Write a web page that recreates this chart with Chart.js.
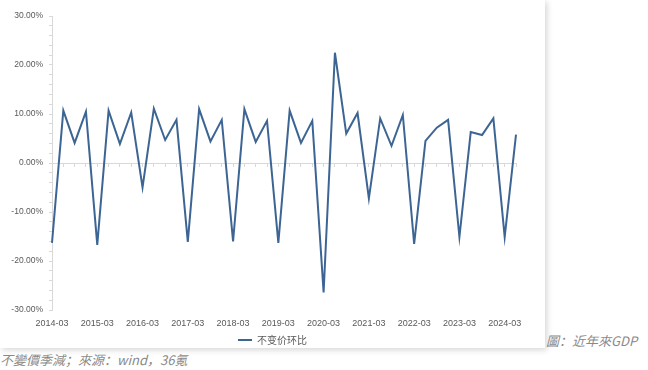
<!DOCTYPE html>
<html lang="zh">
<head>
    <meta charset="UTF-8">
    <title>不变价环比</title>
    <script src="https://cdn.jsdelivr.net/npm/chart.js"></script>
    <style>
        html, body {
            margin: 0;
            padding: 0;
            background: #ffffff;
            width: 648px;
            height: 370px;
            overflow: hidden;
        }
        .painel {
            position: absolute;
            left: 0;
            top: 0;
            width: 545px;
            height: 348px;
            overflow: hidden;
            background: #ffffff;
            box-shadow: 2px 2px 6px rgba(0, 0, 0, 0.16);
        }
        .legenda {
            position: absolute;
            color: #8a8a8a;
            font-style: italic;
            font-family: "Noto Sans CJK TC", "Noto Sans", sans-serif;
            font-size: 13px;
            white-space: nowrap;
        }
    </style>
</head>
<body>
    <div class="painel">
        <canvas id="grafico" width="545" height="355"></canvas>
    </div>
    <div class="legenda" style="left:546px; top:331px;">圖：近年來GDP</div>
    <div class="legenda" style="left:0px; top:350px;">不變價季減；來源：wind，36氪</div>

    <script>
        // rótulos do eixo x (trimestres)
        var trimestres = [
            '2014-03', '2014-06', '2014-09', '2014-12',
            '2015-03', '2015-06', '2015-09', '2015-12',
            '2016-03', '2016-06', '2016-09', '2016-12',
            '2017-03', '2017-06', '2017-09', '2017-12',
            '2018-03', '2018-06', '2018-09', '2018-12',
            '2019-03', '2019-06', '2019-09', '2019-12',
            '2020-03', '2020-06', '2020-09', '2020-12',
            '2021-03', '2021-06', '2021-09', '2021-12',
            '2022-03', '2022-06', '2022-09', '2022-12',
            '2023-03', '2023-06', '2023-09', '2023-12',
            '2024-03', '2024-06'
        ];

        // valores (%)
        var variacao = [
            -16.3, 10.7, 4.1, 10.5,
            -16.7, 10.7, 3.9, 10.3,
            -5.0, 11.1, 4.7, 8.8,
            -16.1, 11.0, 4.4, 8.8,
            -16.0, 11.0, 4.3, 8.6,
            -16.3, 10.7, 4.1, 8.6,
            -26.4, 22.5, 6.0, 10.2,
            -7.2, 9.1, 3.5, 9.8,
            -16.5, 4.5, 7.2, 8.8,
            -15.1, 6.3, 5.7, 9.1,
            -15.1, 5.8
        ];

        var nomeSerie = '不变价环比';
        var corLinha = '#3d6594';
        var corEixo = '#d9d9d9';
        var corTexto = '#595959';

        var ctx = document.getElementById('grafico').getContext('2d');

        var meuGrafico = new Chart(ctx, {
            type: 'line',
            data: {
                labels: trimestres,
                datasets: [{
                    label: nomeSerie,
                    data: variacao,
                    borderColor: corLinha,
                    backgroundColor: corLinha,
                    borderWidth: 2,
                    pointRadius: 0,
                    tension: 0,
                    fill: false
                }]
            },
            options: {
                responsive: false,
                animation: false,
                layout: {
                    padding: { top: 16, right: 0, left: 0, bottom: 0 }
                },
                scales: {
                    x: {
                        type: 'category',
                        offset: false,
                        grid: { display: false, drawTicks: false },
                        border: { display: false },
                        ticks: {
                            autoSkip: false,
                            maxRotation: 0,
                            minRotation: 0,
                            padding: 8,
                            color: corTexto,
                            font: { family: 'Liberation Sans', size: 9 },
                            callback: function (valor, indice) {
                                return indice % 4 === 0 ? this.getLabelForValue(valor) : '';
                            }
                        },
                        afterFit: function (escala) {
                            escala.height = 17;
                        }
                    },
                    // linha do zero com as marcas de cada trimestre
                    x2: {
                        type: 'category',
                        position: { y: 0 },
                        offset: false,
                        grid: {
                            drawOnChartArea: false,
                            drawTicks: true,
                            tickLength: 3,
                            color: corEixo
                        },
                        border: { color: corEixo, width: 1 },
                        ticks: { display: false }
                    },
                    y: {
                        min: -30,
                        max: 30,
                        grid: {
                            drawOnChartArea: false,
                            tickLength: 3,
                            color: corEixo
                        },
                        border: { color: corEixo, width: 1 },
                        ticks: {
                            stepSize: 2,
                            autoSkip: false,
                            padding: 6,
                            color: corTexto,
                            font: { family: 'Liberation Sans', size: 8.5 },
                            callback: function (valor) {
                                return valor % 10 === 0 ? valor.toFixed(2) + '%' : '';
                            }
                        },
                        afterFit: function (escala) {
                            escala.width = 52;
                        }
                    },
                    // espaço vazio à direita da área do gráfico
                    yDireita: {
                        type: 'linear',
                        position: 'right',
                        grid: { display: false, drawTicks: false },
                        border: { display: false },
                        ticks: { display: false },
                        afterFit: function (escala) {
                            escala.width = 29;
                        }
                    }
                },
                plugins: {
                    tooltip: { enabled: false },
                    legend: {
                        display: true,
                        position: 'bottom',
                        labels: {
                            usePointStyle: true,
                            pointStyle: 'line',
                            pointStyleWidth: 14,
                            boxHeight: 10,
                            padding: 8,
                            color: corTexto,
                            font: { family: 'Noto Sans CJK SC', size: 10 }
                        }
                    }
                }
            }
        });
    </script>
</body>
</html>
